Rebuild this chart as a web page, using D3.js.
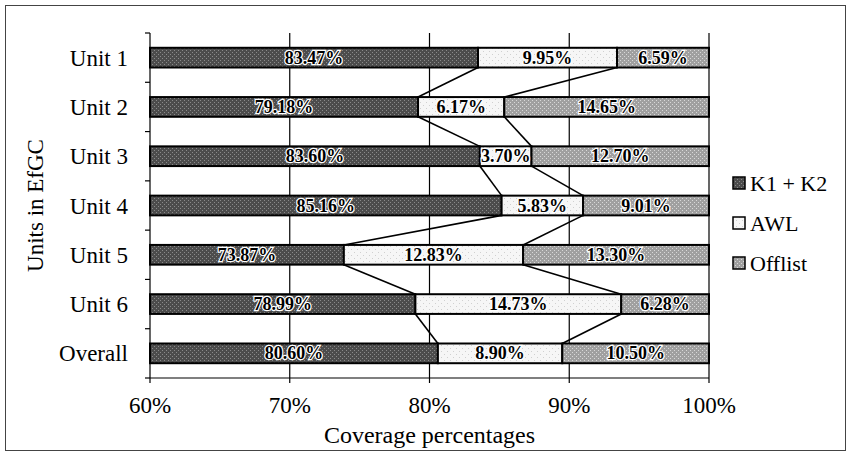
<!DOCTYPE html>
<html>
<head>
<meta charset="utf-8">
<script src="https://cdn.jsdelivr.net/npm/d3@7/dist/d3.min.js"></script>
<style>
  html, body { margin: 0; padding: 0; background: #fff; }
  svg { display: block; font-family: "Liberation Serif", "Times New Roman", serif; }
</style>
</head>
<body>
<svg id="chart" width="851" height="454"></svg>
<script>
// Coverage of word lists per unit (percent)
const categories = ["Unit 1", "Unit 2", "Unit 3", "Unit 4", "Unit 5", "Unit 6", "Overall"];
const seriesNames = ["K1 + K2", "AWL", "Offlist"];
const k1k2    = [83.47, 79.18, 83.60, 85.16, 73.87, 78.99, 80.60];
const awl     = [9.95, 6.17, 3.70, 5.83, 12.83, 14.73, 8.90];
const offlist = [6.59, 14.65, 12.70, 9.01, 13.30, 6.28, 10.50];
const xTicks  = [60, 70, 80, 90, 100];

const fills = ["#4c4c4c", "#f6f6f6", "#a0a0a0"];

const svg = d3.select("#chart");
const W = 851, H = 454;
const plot = { left: 150, right: 709, top: 33, bottom: 378 };

// outer frame
svg.append("rect")
  .attr("x", 5.5).attr("y", 5.5).attr("width", W - 11).attr("height", H - 9)
  .attr("fill", "#fff").attr("stroke", "#444").attr("stroke-width", 1);

// textures for the filled segments
const defs = svg.append("defs");
function texture(id, base, dot, step) {
  const p = defs.append("pattern").attr("id", id)
    .attr("patternUnits", "userSpaceOnUse").attr("width", step * 2).attr("height", step * 2);
  p.append("rect").attr("width", step * 2).attr("height", step * 2).attr("fill", base);
  p.append("rect").attr("x", 0).attr("y", 0).attr("width", 1).attr("height", 1).attr("fill", dot);
  p.append("rect").attr("x", step).attr("y", step).attr("width", 1).attr("height", 1).attr("fill", dot);
}
texture("tex0", fills[0], "#8a8a8a", 2);
texture("tex1", fills[1], "#d0d0d0", 3);
texture("tex2", fills[2], "#d8d8d8", 2);

const x = d3.scaleLinear().domain([60, 100]).range([plot.left, plot.right]);
const y = d3.scaleBand().domain(categories).range([plot.top, plot.bottom]).paddingInner(0.6).paddingOuter(0.3);
const band = d3.scaleBand().domain(categories).range([plot.top, plot.bottom]);

// rows with stacked segments
const rows = categories.map((c, i) => {
  const vals = [k1k2[i], awl[i], offlist[i]];
  let acc = 0;
  const segs = vals.map((v, s) => {
    const seg = { s, v, start: acc, end: acc + v };
    acc += v;
    return seg;
  });
  return { c, segs };
});

// vertical gridlines
svg.append("g").selectAll("line").data(xTicks.slice(1)).join("line")
  .attr("x1", d => x(d)).attr("x2", d => x(d))
  .attr("y1", plot.top).attr("y2", plot.bottom)
  .attr("stroke", "#000").attr("stroke-width", 1.2);

// bars
const rowG = svg.append("g").selectAll("g").data(rows).join("g");
rowG.selectAll("rect").data(d => d.segs.map(s => ({ ...s, c: d.c }))).join("rect")
  .attr("x", d => x(Math.max(60, d.start)))
  .attr("width", d => x(Math.min(100, d.end)) - x(Math.max(60, d.start)))
  .attr("y", d => y(d.c))
  .attr("height", y.bandwidth())
  .attr("fill", d => `url(#tex${d.s})`)
  .attr("stroke", "#000").attr("stroke-width", 2);

// series lines between consecutive bars
const linesG = svg.append("g");
for (let i = 0; i < rows.length - 1; i++) {
  for (let s = 0; s < 2; s++) {
    const a = rows[i].segs[s].end, b = rows[i + 1].segs[s].end;
    linesG.append("line")
      .attr("x1", x(a)).attr("y1", y(rows[i].c) + y.bandwidth())
      .attr("x2", x(b)).attr("y2", y(rows[i + 1].c))
      .attr("stroke", "#000").attr("stroke-width", 1.6);
  }
}

// value labels centred on the visible part of each segment
rowG.selectAll("text").data(d => d.segs.map(s => ({ ...s, c: d.c }))).join("text")
  .attr("x", d => (x(Math.max(60, d.start)) + x(Math.min(100, d.end))) / 2)
  .attr("y", d => y(d.c) + y.bandwidth() / 2 + 6)
  .attr("text-anchor", "middle")
  .attr("font-size", 18)
  .attr("font-weight", "bold")
  .attr("fill", "#000")
  .attr("stroke", "#fff").attr("stroke-width", 2.4).attr("paint-order", "stroke")
  .text(d => d.v.toFixed(2) + "%");

// y axis
const yAxis = svg.append("g").attr("transform", `translate(${plot.left},0)`);
yAxis.append("line").attr("x1", 0).attr("x2", 0).attr("y1", plot.top).attr("y2", plot.bottom)
  .attr("stroke", "#000").attr("stroke-width", 1.2);
const bounds = categories.map(c => band(c)).concat([plot.bottom]);
yAxis.selectAll("line.tk").data(bounds).join("line").attr("class", "tk")
  .attr("x1", -5).attr("x2", 0).attr("y1", d => d).attr("y2", d => d)
  .attr("stroke", "#000").attr("stroke-width", 1.2);
yAxis.selectAll("text").data(categories).join("text")
  .attr("x", -22).attr("y", d => band(d) + band.bandwidth() / 2 + 8)
  .attr("text-anchor", "end").attr("font-size", 23).text(d => d);

// x axis
const xAxis = svg.append("g").attr("transform", `translate(0,${plot.bottom})`);
xAxis.append("line").attr("x1", plot.left).attr("x2", plot.right)
  .attr("stroke", "#000").attr("stroke-width", 1.2);
xAxis.selectAll("line.tk").data(xTicks).join("line").attr("class", "tk")
  .attr("x1", d => x(d)).attr("x2", d => x(d)).attr("y1", 0).attr("y2", 5)
  .attr("stroke", "#000").attr("stroke-width", 1.2);
xAxis.selectAll("text").data(xTicks).join("text")
  .attr("x", d => x(d)).attr("y", 35)
  .attr("text-anchor", "middle").attr("font-size", 23).text(d => d + "%");

// axis titles
svg.append("text").attr("x", (plot.left + plot.right) / 2).attr("y", 443)
  .attr("text-anchor", "middle").attr("font-size", 24).text("Coverage percentages");
svg.append("text").attr("transform", `translate(43,${(plot.top + plot.bottom) / 2}) rotate(-90)`)
  .attr("text-anchor", "middle").attr("font-size", 23).text("Units in EfGC");

// legend
const leg = svg.append("g").selectAll("g").data(seriesNames).join("g")
  .attr("transform", (d, i) => `translate(733,${183 + i * 40})`);
leg.append("rect").attr("x", 0).attr("y", -6).attr("width", 12).attr("height", 12)
  .attr("fill", (d, i) => `url(#tex${i})`).attr("stroke", "#000").attr("stroke-width", 1.5);
leg.append("text").attr("x", 17).attr("y", 8).attr("font-size", 22).text(d => d);
</script>
</body>
</html>
